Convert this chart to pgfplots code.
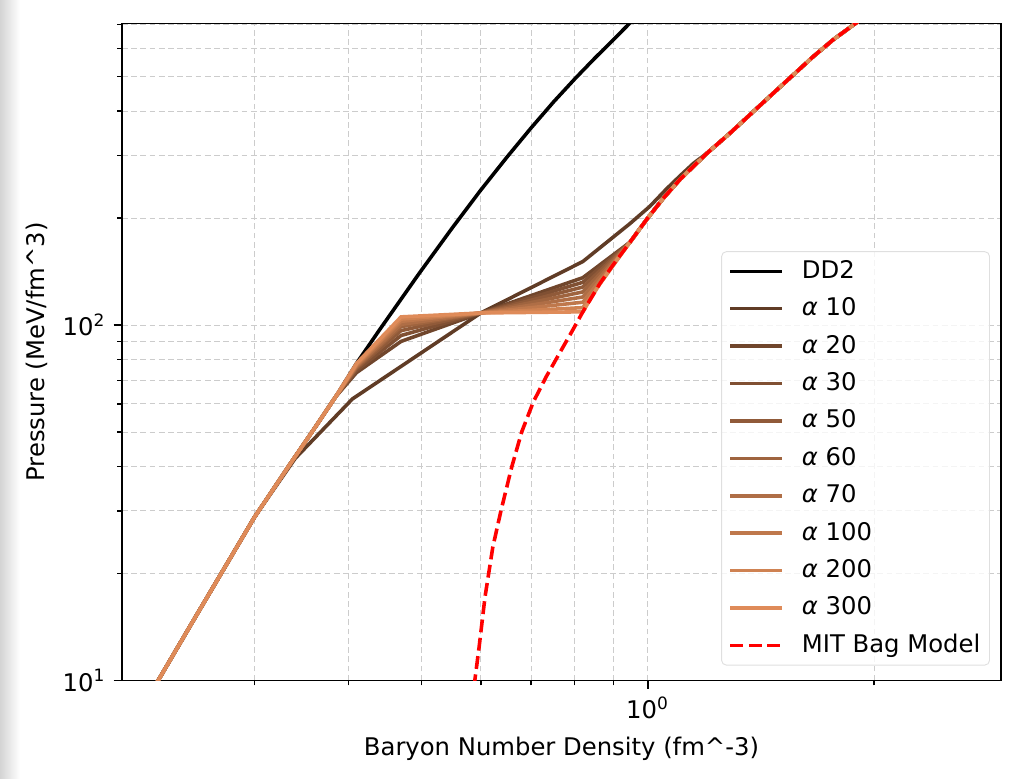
\documentclass[border=0pt]{standalone}
\usepackage{fontspec}
\setmainfont{DejaVu Sans}
\usepackage{pgfplots}
\pgfplotsset{compat=1.18}
\definecolor{c10}{rgb}{0.375,0.234,0.149}
\definecolor{c20}{rgb}{0.4375,0.273,0.174}
\definecolor{c30}{rgb}{0.5,0.3125,0.199}
\definecolor{c50}{rgb}{0.5625,0.3515,0.224}
\definecolor{c60}{rgb}{0.625,0.3906,0.249}
\definecolor{c70}{rgb}{0.6875,0.4297,0.274}
\definecolor{c100}{rgb}{0.75,0.4687,0.2985}
\definecolor{c200}{rgb}{0.8125,0.5078,0.3234}
\definecolor{c300}{rgb}{0.875,0.5468,0.348}
\newcommand{\fs}{\fontsize{10.55}{12.5}\selectfont}
\begin{document}
\begin{tikzpicture}
\begin{axis}[
  xmode=log, ymode=log,
  scale only axis, width=381.7pt, height=285.3pt,
  xmin=0.2, xmax=2.95, ymin=10, ymax=706,
  xtick={1}, xticklabels={10\textsuperscript{0}},
  ytick={10,100}, yticklabels={10\textsuperscript{1},10\textsuperscript{2}},
  minor xtick={0.3,0.4,0.5,0.6,0.7,0.8,0.9,2},
  minor ytick={20,30,40,50,60,70,80,90,200,300,400,500,600,700},
  grid=both,
  major grid style={gray!40, line width=0.45pt, dash pattern=on 2.5pt off 1.5pt},
  minor grid style={gray!40, line width=0.45pt, dash pattern=on 2.5pt off 1.5pt},
  tick align=outside, tick pos=left,
  major tick length=3.6pt, minor tick length=2.1pt,
  major tick style={black, line width=0.8pt},
  minor tick style={black, line width=0.6pt},
  axis line style={line width=0.8pt},
  tick label style={font=\fs},
  xlabel={Baryon Number Density (fm\textasciicircum-3)},
  ylabel={Pressure (MeV/fm\textasciicircum3)},
  label style={font=\fs},
  xlabel style={at={([yshift=-29.5pt]axis description cs:0.5,0)}, anchor=center},
  ylabel style={at={([xshift=-37pt]axis description cs:0,0.5)}, anchor=center, rotate=0},
  legend cell align=left,
  legend image code/.code={\draw[#1] (0pt,0pt) -- (22.6pt,0pt);},
  legend style={at={([xshift=-4.8pt,yshift=6.5pt]rel axis cs:1,0)}, anchor=south east,
    draw=gray!25, rounded corners=2pt, fill=white, fill opacity=0.8, text opacity=1,
    font=\fs, inner xsep=3pt, inner ysep=2pt,
    row sep=3.25pt, column sep=6.7pt,
    nodes={inner sep=1pt, text height=8.5pt, text depth=2.5pt}},
]
% DD2
\addplot[black, line width=1.55pt] coordinates {
(0.21,8.3)(0.2234,10)(0.25,15)(0.3,28.8)(0.335,40.8)(0.36,51)(0.385,63)(0.41,78)(0.44,97)(0.497,140)(0.55,188)(0.6,240)(0.65,297)(0.7,359)(0.75,425)(0.8,493)(0.85,563)(0.9,635)(0.942,700)(0.96,735)};
\addlegendentry{DD2}
% alpha 10
\addplot[c10, line width=1.55pt] coordinates {
(0.21,8.3)(0.2234,10)(0.25,15)(0.3,28.8)(0.34,42.2)(0.405,62)(0.6,108.2)(0.82,151)(0.947,193)(1.007,216)(1.06,242)(1.104,263)(1.15,285)(1.2,305)(1.287,347)(1.398,408)(1.5,468)(1.659,569)(1.764,635)(1.899,712)(2.0,780)};
\addlegendentry{{\itshape α} 10}
% alpha 20
\addplot[c20, line width=1.55pt] coordinates {
(0.21,8.3)(0.2234,10)(0.25,15)(0.3,28.8)(0.335,40.8)(0.36,51)(0.385,63)(0.41,73.5)(0.47,90)(0.6,108.2)(0.82,136)(0.947,171)(0.998,199)(1.05,228)(1.104,257)(1.2,305)(1.287,347)(1.398,408)(1.5,468)(1.659,569)(1.764,635)(1.899,712)(2.0,780)};
\addlegendentry{{\itshape α} 20}
% alpha 30
\addplot[c30, line width=1.55pt] coordinates {
(0.21,8.3)(0.2234,10)(0.25,15)(0.3,28.8)(0.335,40.8)(0.36,51)(0.385,63)(0.41,74.5)(0.47,93.5)(0.6,108.2)(0.82,132)(0.947,171)(0.998,199)(1.05,228)(1.104,257)(1.2,305)(1.287,347)(1.398,408)(1.5,468)(1.659,569)(1.764,635)(1.899,712)(2.0,780)};
\addlegendentry{{\itshape α} 30}
% alpha 50
\addplot[c50, line width=1.55pt] coordinates {
(0.21,8.3)(0.2234,10)(0.25,15)(0.3,28.8)(0.335,40.8)(0.36,51)(0.385,63)(0.41,75.5)(0.47,96.5)(0.6,108.2)(0.82,128)(0.947,171)(0.998,199)(1.05,228)(1.104,257)(1.2,305)(1.287,347)(1.398,408)(1.5,468)(1.659,569)(1.764,635)(1.899,712)(2.0,780)};
\addlegendentry{{\itshape α} 50}
% alpha 60
\addplot[c60, line width=1.55pt] coordinates {
(0.21,8.3)(0.2234,10)(0.25,15)(0.3,28.8)(0.335,40.8)(0.36,51)(0.385,63)(0.41,76)(0.47,99)(0.6,108.2)(0.82,124)(0.947,171)(0.998,199)(1.05,228)(1.104,257)(1.2,305)(1.287,347)(1.398,408)(1.5,468)(1.659,569)(1.764,635)(1.899,712)(2.0,780)};
\addlegendentry{{\itshape α} 60}
% alpha 70
\addplot[c70, line width=1.55pt] coordinates {
(0.21,8.3)(0.2234,10)(0.25,15)(0.3,28.8)(0.335,40.8)(0.36,51)(0.385,63)(0.41,76.5)(0.47,100.5)(0.6,108.2)(0.82,120)(0.947,171)(0.998,199)(1.05,228)(1.104,257)(1.2,305)(1.287,347)(1.398,408)(1.5,468)(1.659,569)(1.764,635)(1.899,712)(2.0,780)};
\addlegendentry{{\itshape α} 70}
% alpha 100
\addplot[c100, line width=1.55pt] coordinates {
(0.21,8.3)(0.2234,10)(0.25,15)(0.3,28.8)(0.335,40.8)(0.36,51)(0.385,63)(0.41,77)(0.47,102.5)(0.6,108.2)(0.82,116)(0.947,171)(0.998,199)(1.05,228)(1.104,257)(1.2,305)(1.287,347)(1.398,408)(1.5,468)(1.659,569)(1.764,635)(1.899,712)(2.0,780)};
\addlegendentry{{\itshape α} 100}
% alpha 200
\addplot[c200, line width=1.55pt] coordinates {
(0.21,8.3)(0.2234,10)(0.25,15)(0.3,28.8)(0.335,40.8)(0.36,51)(0.385,63)(0.41,77.5)(0.47,104)(0.6,108.2)(0.82,112)(0.947,171)(0.998,199)(1.05,228)(1.104,257)(1.2,305)(1.287,347)(1.398,408)(1.5,468)(1.659,569)(1.764,635)(1.899,712)(2.0,780)};
\addlegendentry{{\itshape α} 200}
% alpha 300
\addplot[c300, line width=1.55pt] coordinates {
(0.21,8.3)(0.2234,10)(0.25,15)(0.3,28.8)(0.335,40.8)(0.36,51)(0.385,63)(0.41,78)(0.47,105.5)(0.6,108.2)(0.82,109)(0.864,131)(0.9,148)(0.947,171)(0.998,199)(1.05,228)(1.104,257)(1.2,305)(1.287,347)(1.398,408)(1.5,468)(1.659,569)(1.764,635)(1.899,712)(2.0,780)};
\addlegendentry{{\itshape α} 300}
% MIT bag
\addplot[red, line width=1.55pt, dash pattern=on 5.6pt off 2.4pt] coordinates {
(0.586,8.5)(0.5894,10.1)(0.5968,12.4)(0.6078,17.2)(0.6224,23.7)(0.6383,30.1)(0.6596,39.9)(0.6801,50.1)(0.7047,60.8)(0.7328,71.5)(0.7632,83.2)(0.795,96.8)(0.82,109)(0.864,131)(0.9,148)(0.947,171)(0.998,199)(1.05,228)(1.104,257)(1.2,305)(1.287,347)(1.398,408)(1.5,468)(1.659,569)(1.764,635)(1.899,712)(2.0,780)};
\addlegendentry{MIT Bag Model}
\end{axis}
\pgfresetboundingbox
\path[use as bounding box] ([shift={(-52.97pt,-42.55pt)}]current axis.south west) rectangle ([shift={(4.34pt,10.2pt)}]current axis.north east);
\shade[left color=black!17, right color=white] ([shift={(-52.97pt,-42.55pt)}]current axis.south west) rectangle ([shift={(-44.3pt,10.2pt)}]current axis.north west);
\end{tikzpicture}
\end{document}
